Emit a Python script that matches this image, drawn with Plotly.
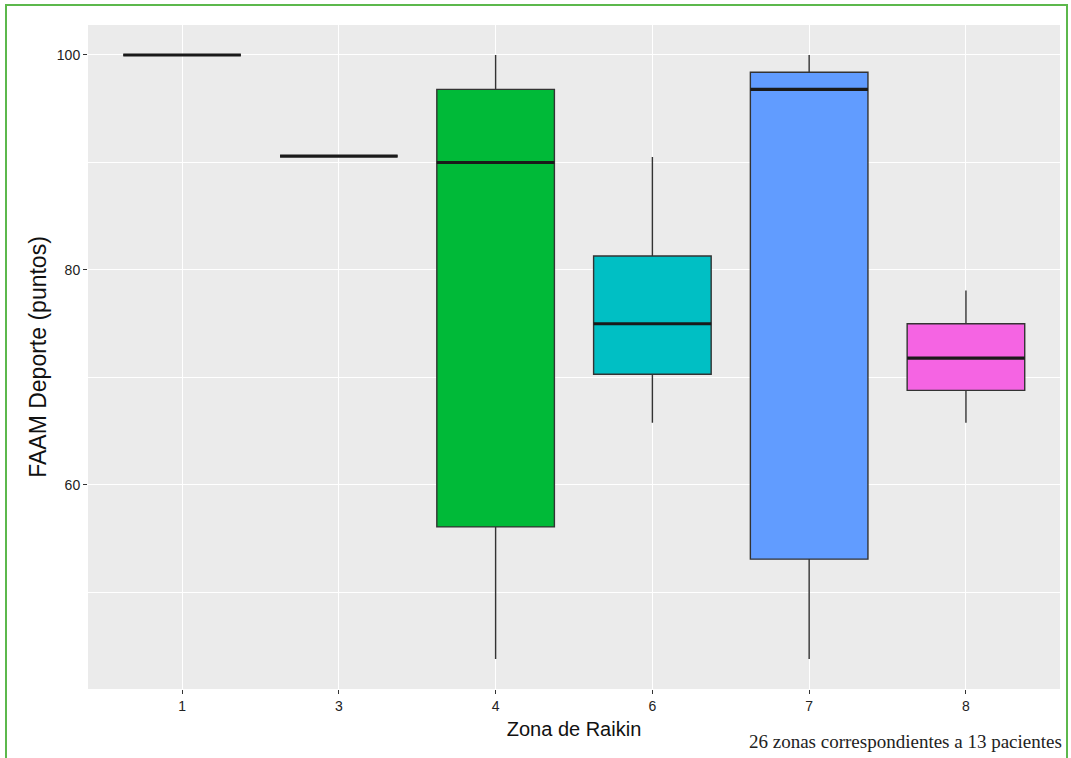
import plotly.graph_objects as go

zones = ["1", "3", "4", "6", "7", "8"]
lower = [100.0, 90.6, 43.8, 65.8, 43.8, 65.8]
q1 = [100.0, 90.6, 56.1, 70.3, 53.1, 68.8]
median = [100.0, 90.6, 90.0, 75.0, 96.8, 71.8]
q3 = [100.0, 90.6, 96.8, 81.3, 98.4, 75.0]
upper = [100.0, 90.6, 100.0, 90.5, 100.0, 78.1]
fills = ["#F8766D", "#B79F00", "#00BA38", "#00BFC4", "#619CFF", "#F564E3"]

box_w = 0.75
fig = go.Figure()
for i, z in enumerate(zones):
    fig.add_trace(go.Box(
        x=[i], q1=[q1[i]], median=[median[i]], q3=[q3[i]],
        lowerfence=[lower[i]], upperfence=[upper[i]],
        width=box_w, whiskerwidth=0, fillcolor=fills[i],
        line=dict(color="#333333", width=1.4),
        boxpoints=False, showlegend=False, hoverinfo="skip",
    ))
for i, z in enumerate(zones):
    fig.add_trace(go.Scatter(
        x=[i - box_w / 2, i + box_w / 2], y=[median[i], median[i]],
        mode="lines", line=dict(color="#1a1a1a", width=3.2),
        showlegend=False, hoverinfo="skip",
    ))

L, R, T, B = 88, 11, 25, 69
W, H = 1071, 758
pw, ph = W - L - R, H - T - B
fig.add_shape(type="rect", xref="paper", yref="paper",
              x0=(6 - L) / pw, x1=(1067 - L) / pw,
              y0=(H - B - 770) / ph, y1=(H - B - 5) / ph,
              line=dict(color="#5cb84c", width=2), fillcolor="rgba(0,0,0,0)", layer="below")

fig.add_annotation(text="26 zonas correspondientes a 13 pacientes",
                   xref="paper", yref="paper", x=(1064 - L) / pw, y=(H - B - 741) / ph,
                   xanchor="right", yanchor="middle", showarrow=False,
                   font=dict(family="Liberation Serif, Times New Roman, serif", size=19, color="#222222"))

fig.update_layout(
    width=W, height=H,
    margin=dict(l=L, r=R, t=T, b=B, pad=0),
    paper_bgcolor="white", plot_bgcolor="#EBEBEB",
    boxmode="overlay",
    font=dict(family="Liberation Sans, Arial, sans-serif", color="#333333"),
    xaxis=dict(
        range=[-0.6, 5.6], tickmode="array", tickvals=list(range(len(zones))), ticktext=zones,
        showgrid=True, gridcolor="white", gridwidth=1.4, zeroline=False,
        ticks="outside", ticklen=4, tickcolor="#333333", tickwidth=1.2,
        tickfont=dict(size=14, color="#222222"),
        title=dict(text="Zona de Raikin", font=dict(size=20, color="#111111"), standoff=9),
    ),
    yaxis=dict(
        range=[41.02, 102.79], tickmode="array", tickvals=[60, 80, 100],
        showgrid=True, gridcolor="white", gridwidth=1.4, zeroline=False,
        minor=dict(tickvals=[50, 70, 90], showgrid=True, gridcolor="white", gridwidth=0.7, ticks=""),
        ticks="outside", ticklen=4, tickcolor="#333333", tickwidth=1.2,
        tickfont=dict(size=14, color="#222222"),
        title=dict(text="FAAM Deporte (puntos)", font=dict(size=23, color="#111111"), standoff=3),
    ),
)

fig.write_html("out.html", config={"displayModeBar": False},
               post_script="document.body.style.margin='0';document.body.style.padding='0';")
